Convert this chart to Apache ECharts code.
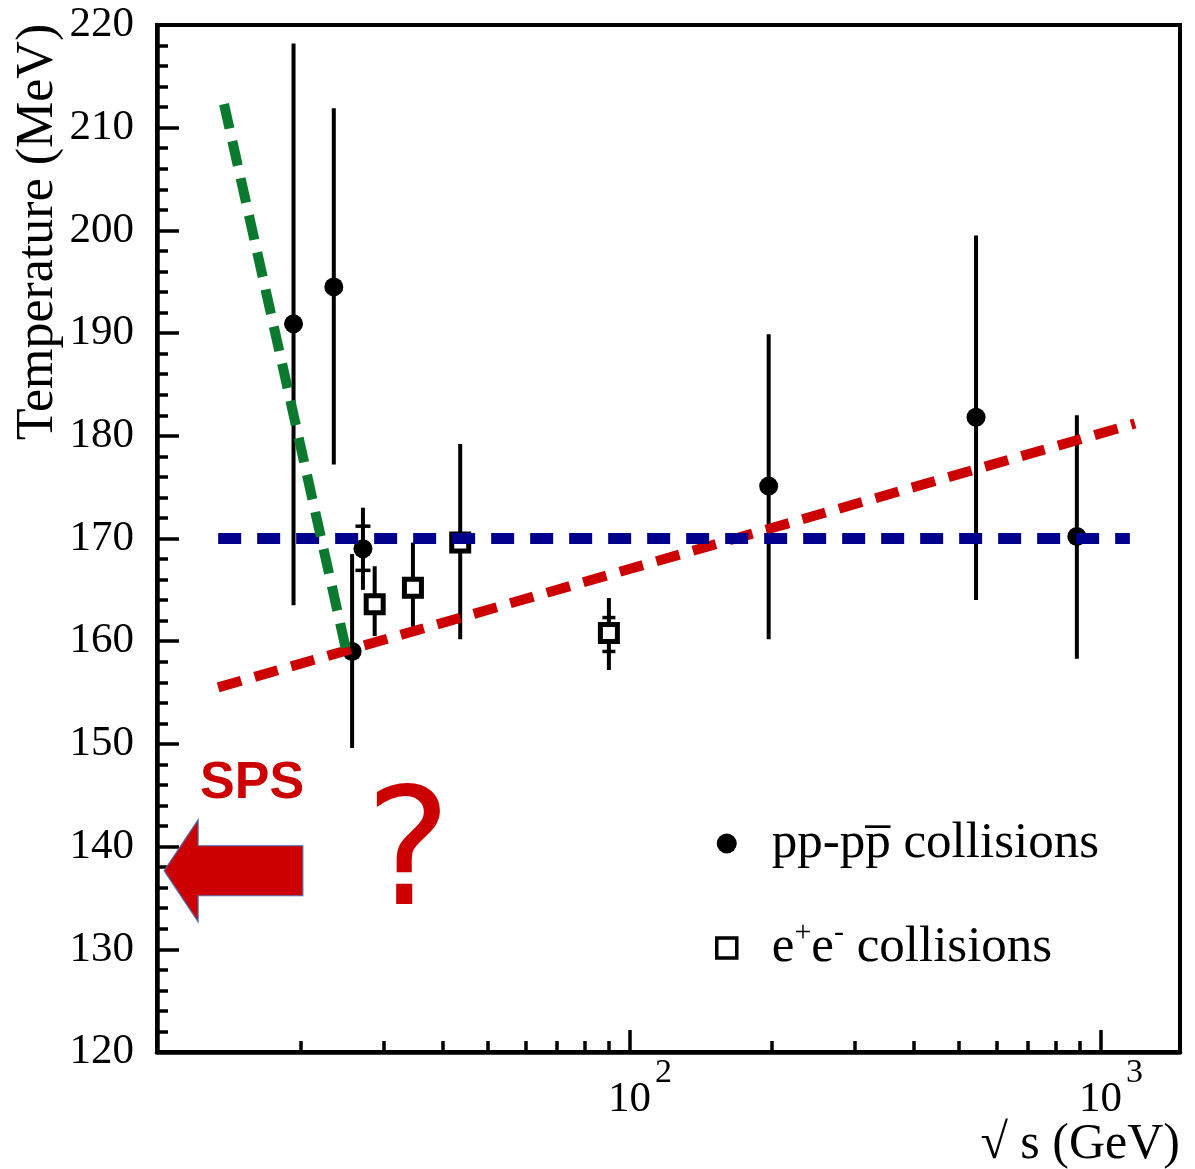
<!DOCTYPE html>
<html><head><meta charset="utf-8">
<script src="https://cdn.jsdelivr.net/npm/echarts@6/dist/echarts.min.js"></script>
<style>html,body{margin:0;padding:0;background:#fff;}#chart{width:1195px;height:1169px;}</style>
</head><body><div id="chart"></div>
<script>
// ---- pp / p-pbar collisions (sqrt(s) in GeV, T in MeV) ----
const ppEnergy  = [19.3, 23.5, 25.7, 27.1, 197, 543, 889];
const ppTemp    = [190.9, 194.5, 159.0, 169.0, 175.1, 181.8, 170.2];
const ppLow     = [163.5, 177.2, 149.6, 165.0, 160.2, 164.0, 158.3];
const ppHigh    = [218.2, 211.9, 168.5, 173.0, 189.9, 199.5, 182.0];
const ppSysLow  = [null, null, null, 166.9, null, null, null];
const ppSysHigh = [null, null, null, 171.2, null, null, null];
// ---- e+e- collisions ----
const eeEnergy  = [28.7, 34.6, 43.6, 90.2];
const eeTemp    = [163.6, 165.2, 169.6, 160.8];
const eeLow     = [160.5, 161.4, 160.2, 157.2];
const eeHigh    = [167.3, 169.6, 179.2, 164.2];
const eeSysLow  = [null, null, null, 159.0];
const eeSysHigh = [null, null, null, 162.3];
// ---- dashed guide lines ----
const blueLineEnergy  = [13.35, 1152];
const blueLineTemp    = [170, 170];
const redLineEnergy   = [13.35, 1181];
const redLineTemp     = [155.5, 181.2];
const greenLineEnergy = [13.74, 25.0];
const greenLineTemp   = [212.3, 159.0];
// ---- axes ----
const xRange = [9.9, 1472];
const yRange = [120, 220];
const yStep = 10;
const xMajorTicks = [100, 1000];
const xMinorTicks = [20, 30, 40, 50, 60, 70, 80, 90, 200, 300, 400, 500, 600, 700, 800, 900];
// ---- annotations (data coordinates) ----
const arrowTail = [20.2, 137.65];
const arrowTip  = [10.25, 137.65];
const spsLabelPos = [15.76, 146.1];
const questionPos = [33.8, 138.5];

const lg = Math.log10;
const SERIF = '"Liberation Serif", "Times New Roman", serif';

function errData(E, lo, hi, sl, sh) {
  return E.map((e, i) => [lg(e), lo[i], hi[i], sl[i] == null ? NaN : sl[i], sh[i] == null ? NaN : sh[i]]);
}
function errRender(lw, capW) {
  return function (params, api) {
    const x = api.value(0);
    const a = api.coord([x, api.value(1)]);
    const b = api.coord([x, api.value(2)]);
    const ch = [{ type: 'line', shape: { x1: a[0], y1: a[1], x2: b[0], y2: b[1] }, style: { stroke: '#000', lineWidth: lw } }];
    [api.value(3), api.value(4)].forEach(v => {
      if (v == null || isNaN(v)) return;
      const c = api.coord([x, v]);
      ch.push({ type: 'line', shape: { x1: c[0] - capW / 2, y1: c[1], x2: c[0] + capW / 2, y2: c[1] }, style: { stroke: '#000', lineWidth: 3.5 } });
    });
    return { type: 'group', children: ch };
  };
}
function lineData(E, T) { return E.map((e, i) => [lg(e), T[i]]); }

const chart = echarts.init(document.getElementById('chart'), null, { renderer: 'canvas' });
chart.setOption({
  animation: false,
  backgroundColor: '#fff',
  grid: { left: 157, right: 15, top: 25, bottom: 117, show: true, borderColor: '#000', borderWidth: 4, backgroundColor: 'transparent' },
  xAxis: [
    {
      type: 'value', min: lg(xRange[0]), max: lg(xRange[1]), position: 'bottom',
      axisLine: { show: true, onZero: false, lineStyle: { color: '#000', width: 4.5 } },
      axisTick: { show: true, inside: true, length: 22, customValues: xMajorTicks.map(lg), lineStyle: { color: '#000', width: 3.5 } },
      splitLine: { show: false },
      axisLabel: {
        show: true, margin: 3, customValues: xMajorTicks.map(lg),
        formatter: v => '{p| }{b|10}{s|' + Math.round(v) + '}',
        rich: {
          p: { width: 20, lineHeight: 73 },
          b: { fontFamily: SERIF, fontSize: 43, height: 56, lineHeight: 56, verticalAlign: 'bottom', color: '#000' },
          s: { fontFamily: SERIF, fontSize: 34, height: 37, lineHeight: 37, verticalAlign: 'top', padding: [0, 0, 0, 4], color: '#000' }
        }
      }
    },
    {
      type: 'value', min: lg(xRange[0]), max: lg(xRange[1]), position: 'bottom',
      axisLine: { show: false, onZero: false },
      axisTick: { show: true, inside: true, length: 11, customValues: xMinorTicks.map(lg), lineStyle: { color: '#000', width: 3.5 } },
      axisLabel: { show: false },
      splitLine: { show: false }
    }
  ],
  yAxis: {
    type: 'value', min: yRange[0], max: yRange[1], interval: yStep,
    axisLine: { show: true, onZero: false, lineStyle: { color: '#000', width: 4.5 } },
    axisTick: { show: true, inside: true, length: 22, lineStyle: { color: '#000', width: 3.5 } },
    minorTick: { show: true, splitNumber: 5, length: 11, lineStyle: { color: '#000', width: 3.5 } },
    splitLine: { show: false },
    axisLabel: { margin: 23, fontFamily: SERIF, fontSize: 43, color: '#000' }
  },
  legend: {
    orient: 'vertical', left: 715, top: 818, itemWidth: 20, itemHeight: 20, itemGap: 49, padding: 0,
    selectedMode: false,
    data: [{ name: 'pp' }, { name: 'ee', itemStyle: { borderWidth: 3.5 } }],
    formatter: n => n === 'pp' ? '{sp| }{t|pp-pp\u0305 collisions}' : '{sp| }{t|e}{sup|+}{t|e}{sup|-}{t| collisions}',
    textStyle: {
      fontFamily: SERIF, fontSize: 51, color: '#000',
      rich: {
        sp: { width: 30 },
        t: { fontFamily: SERIF, fontSize: 51, lineHeight: 60, color: '#000' },
        sup: { fontFamily: SERIF, fontSize: 30, lineHeight: 14, verticalAlign: 'top', color: '#000' }
      }
    }
  },
  graphic: [
    { type: 'text', x: 38, y: 232, rotation: Math.PI / 2, silent: true,
      style: { text: 'Temperature (MeV)', font: '52px ' + SERIF, fill: '#000', align: 'center', verticalAlign: 'middle', textAlign: 'center', textVerticalAlign: 'middle' } },
    { type: 'text', x: 1180, y: 1145, silent: true,
      style: { text: '\u221A s (GeV)', font: '50px ' + SERIF, fill: '#000', align: 'right', verticalAlign: 'middle', textAlign: 'right', textVerticalAlign: 'middle' } }
  ],
  series: [
    { name: 'ppErr', type: 'custom', silent: true, z: 2, renderItem: errRender(4, 15),
      encode: { x: 0, y: [1, 2] }, data: errData(ppEnergy, ppLow, ppHigh, ppSysLow, ppSysHigh) },
    { name: 'eeErr', type: 'custom', silent: true, z: 2, renderItem: errRender(4, 13),
      encode: { x: 0, y: [1, 2] }, data: errData(eeEnergy, eeLow, eeHigh, eeSysLow, eeSysHigh) },
    { name: 'pp', type: 'scatter', silent: true, z: 3, symbol: 'circle', symbolSize: 19,
      itemStyle: { color: '#000', opacity: 1 }, data: lineData(ppEnergy, ppTemp) },
    { name: 'ee', type: 'scatter', silent: true, z: 3, symbol: 'rect', symbolSize: 17,
      itemStyle: { color: '#fff', borderColor: '#000', borderWidth: 5, opacity: 1 }, data: lineData(eeEnergy, eeTemp) },
    { name: 'red', type: 'line', silent: true, z: 4, symbol: 'none', data: lineData(redLineEnergy, redLineTemp),
      lineStyle: { color: '#cc0000', width: 10, type: [24, 14] } },
    { name: 'blue', type: 'line', silent: true, z: 5, symbol: 'none', data: lineData(blueLineEnergy, blueLineTemp),
      lineStyle: { color: '#00008c', width: 11, type: [23, 16] } },
    { name: 'green', type: 'line', silent: true, z: 6, symbol: 'none', data: lineData(greenLineEnergy, greenLineTemp),
      lineStyle: { color: '#0b7a2f', width: 10, type: [25, 13] } },
    { name: 'annot', type: 'custom', silent: true, z: 7, encode: { x: [0, 2, 4, 6], y: [1, 3, 5, 7] },
      data: [[lg(arrowTail[0]), arrowTail[1], lg(arrowTip[0]), arrowTip[1], lg(spsLabelPos[0]), spsLabelPos[1], lg(questionPos[0]), questionPos[1]]],
      renderItem: function (params, api) {
        const tail = api.coord([api.value(0), api.value(1)]);
        const tip = api.coord([api.value(2), api.value(3)]);
        const sps = api.coord([api.value(4), api.value(5)]);
        const q = api.coord([api.value(6), api.value(7)]);
        const hb = tip[0] + 34, cy = tip[1], bh = 25, hh = 51;
        return { type: 'group', children: [
          { type: 'polygon', shape: { points: [[tip[0], cy], [hb, cy - hh], [hb, cy - bh], [tail[0], cy - bh], [tail[0], cy + bh], [hb, cy + bh], [hb, cy + hh]] },
            style: { fill: '#cc0000', stroke: '#4f6fae', lineWidth: 1.2 } },
          { type: 'text', x: sps[0], y: sps[1], style: { text: 'SPS', font: 'bold 52px "Liberation Sans", Arial, sans-serif', fill: '#cc0000', align: 'center', verticalAlign: 'middle' } },
          { type: 'text', x: q[0], y: q[1], style: { text: '?', font: '162px "DejaVu Sans", sans-serif', fill: '#cc0000', align: 'center', verticalAlign: 'middle' } }
        ] };
      } }
  ]
});
</script>
</body></html>
